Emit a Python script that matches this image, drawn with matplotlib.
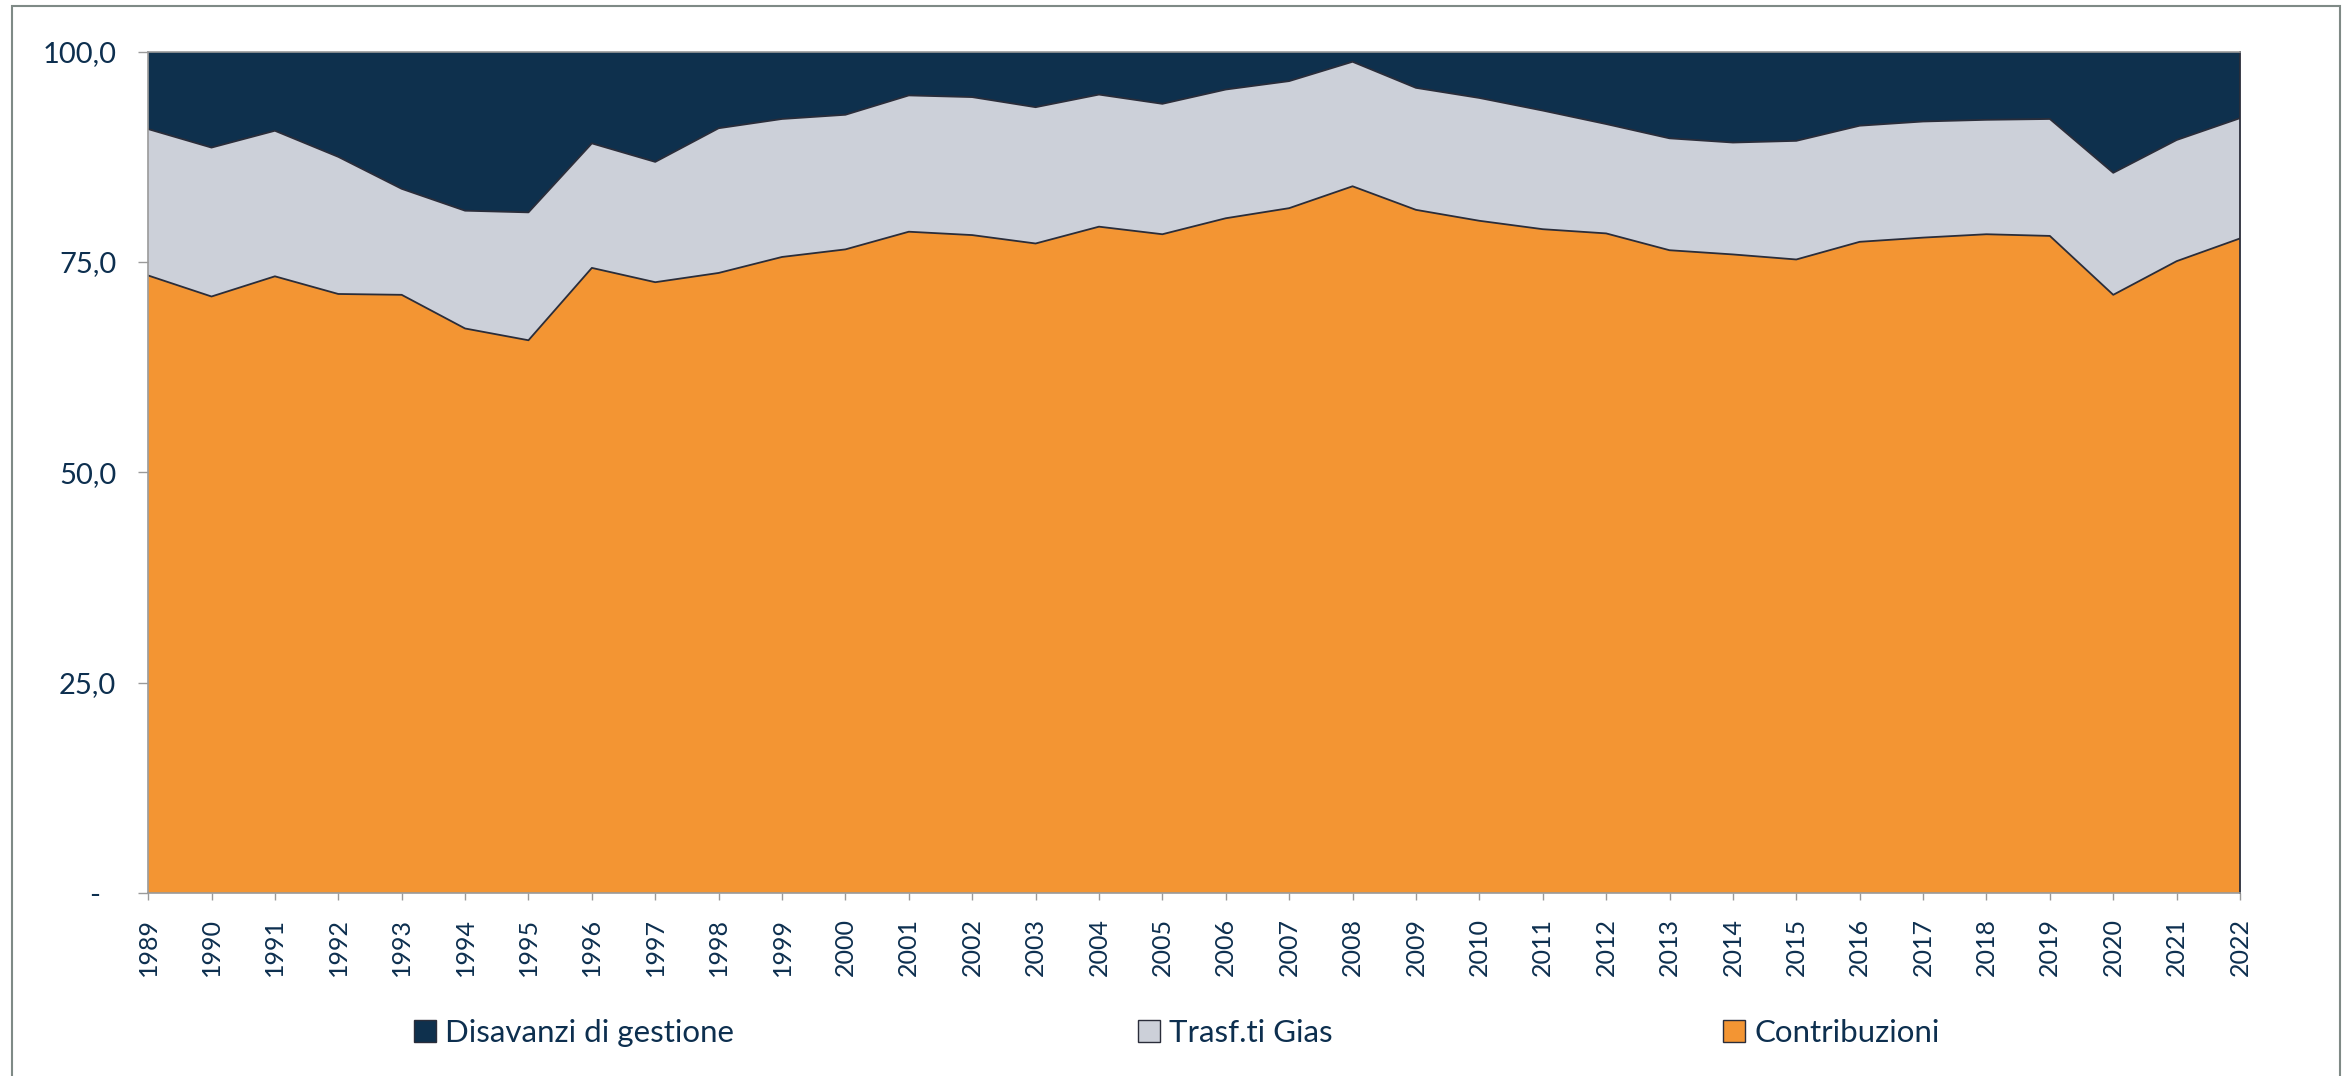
import matplotlib
matplotlib.use("Agg")
import matplotlib.pyplot as plt
import numpy as np
from matplotlib.patches import Rectangle, Patch

# Composizione delle entrate (%), 1989-2022
years = list(range(1989, 2023))
contribuzioni = [73.4, 70.9, 73.3, 71.2, 71.1, 67.1, 65.7, 74.3, 72.6, 73.7,
                 75.6, 76.5, 78.6, 78.2, 77.2, 79.2, 78.3, 80.2, 81.4, 84.0,
                 81.2, 79.9, 78.9, 78.4, 76.4, 75.9, 75.3, 77.4, 77.9, 78.3,
                 78.1, 71.1, 75.1, 77.8]
trasf_gias = [17.4, 17.7, 17.3, 16.3, 12.6, 14.0, 15.2, 14.8, 14.3, 17.2,
              16.4, 16.0, 16.2, 16.4, 16.2, 15.7, 15.5, 15.3, 15.1, 14.8,
              14.5, 14.6, 14.1, 13.0, 13.3, 13.3, 14.1, 13.8, 13.8, 13.6,
              13.9, 14.5, 14.4, 14.3]
disavanzi = [9.2, 11.4, 9.4, 12.5, 16.3, 18.9, 19.1, 10.9, 13.1, 9.1,
             8.0, 7.5, 5.2, 5.4, 6.6, 5.1, 6.2, 4.5, 3.5, 1.2,
             4.3, 5.5, 7.0, 8.6, 10.3, 10.8, 10.6, 8.8, 8.3, 8.1,
             8.0, 14.4, 10.5, 7.9]
yticks = [0, 25, 50, 75, 100]
ytick_labels = ["-  ", "25,0", "50,0", "75,0", "100,0"]

c_orange = "#F39533"
c_gray = "#CCD0D9"
c_navy = "#0E304D"
c_line = "#2A2D3A"
c_text = "#0D2F4F"
c_axis = "#9A9A9A"

plt.rcParams['font.family'] = ['Lato', 'DejaVu Sans']

fig = plt.figure(figsize=(23.51, 10.76), dpi=100)
ax = fig.add_axes([0.063, 0.170, 0.8898, 0.782])

ax.stackplot(years, contribuzioni, trasf_gias, disavanzi,
             colors=[c_orange, c_gray, c_navy], linewidth=0)

cum1 = np.array(contribuzioni)
cum2 = cum1 + np.array(trasf_gias)
ax.plot(years, cum1, color=c_line, lw=1.3)
ax.plot(years, cum2, color=c_line, lw=1.3)

ax.set_xlim(years[0], years[-1])
ax.set_ylim(0, 100)

ax.set_xticks(years)
ax.set_xticklabels([str(y) for y in years], rotation=90)
ax.set_yticks(yticks)
ax.set_yticklabels(ytick_labels)

ax.tick_params(axis='x', direction='out', length=5, width=1, color=c_axis,
               labelsize=18, labelcolor=c_text, pad=13)
ax.tick_params(axis='y', direction='out', length=7, width=1, color=c_axis,
               labelsize=21, labelcolor=c_text, pad=16)

for s in ['left', 'bottom', 'top']:
    ax.spines[s].set_color(c_axis)
    ax.spines[s].set_linewidth(1.2)
ax.spines['right'].set_color(c_line)
ax.spines['right'].set_linewidth(1.3)

# legenda in tre blocchi separati
entries = [("Disavanzi di gestione", c_navy, 0.176),
           ("Trasf.ti Gias", c_gray, 0.484),
           ("Contribuzioni", c_orange, 0.733)]
for label, col, xpos in entries:
    lg = fig.legend(handles=[Patch(facecolor=col, edgecolor=c_line, linewidth=1)],
                    labels=[label], loc='center left', bbox_to_anchor=(xpos, 0.040),
                    frameon=False, fontsize=22.5, handlelength=0.7, handleheight=0.7,
                    handletextpad=0.3, borderpad=0, borderaxespad=0)
    for t in lg.get_texts():
        t.set_color(c_text)

# cornice del grafico
fig.patches.append(Rectangle((0.0051, -0.02), 0.9902, 1.0144, transform=fig.transFigure,
                             fill=False, edgecolor="#7F8A86", linewidth=1.5))

fig.savefig("out.png", dpi=100)
